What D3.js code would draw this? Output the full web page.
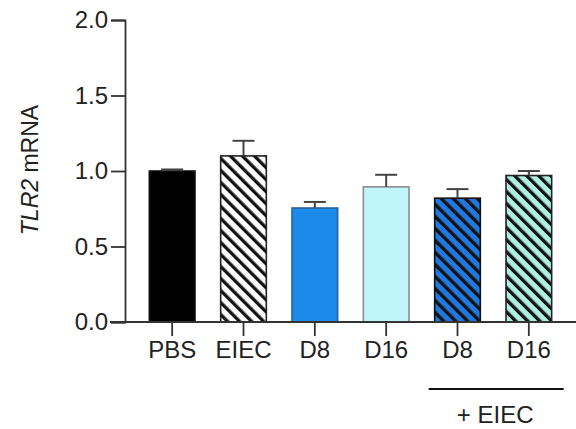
<!DOCTYPE html>
<html>
<head>
<meta charset="utf-8">
<script src="https://cdn.jsdelivr.net/npm/d3@7"></script>
<style>
  body { margin: 0; background: #fff; }
  svg text { font-family: "Liberation Sans", Arial, sans-serif; fill: #222; }
</style>
</head>
<body>
<div id="chart"></div>
<script>
var groups = ['PBS', 'EIEC', 'D8', 'D16', 'D8 ', 'D16 '],
  tickNames = ['PBS', 'EIEC', 'D8', 'D16', 'D8', 'D16'],
  means = [1.0, 1.10, 0.755, 0.895, 0.82, 0.97],
  errs = [0.01, 0.10, 0.04, 0.08, 0.06, 0.03],
  fills = ['#000000', '#ffffff', '#1b8ae8', '#bff5fb', '#2079e0', '#aef0e2'],
  strokes = ['#111111', '#222222', '#2a6298', '#8a8f92', '#111111', '#222222'],
  hatched = [false, true, false, false, true, true],
  yTicks = [0, 0.5, 1.0, 1.5, 2.0];

var W = 576, H = 429;

var svg = d3.select('#chart').append('svg')
  .attr('width', W)
  .attr('height', H);

var defs = svg.append('defs');

// hatch pattern for each filled colour
groups.forEach(function (g, i) {
  if (!hatched[i]) return;
  var p = defs.append('pattern')
    .attr('id', 'hatch' + i)
    .attr('patternUnits', 'userSpaceOnUse')
    .attr('width', 8.5)
    .attr('height', 8.5)
    .attr('patternTransform', 'rotate(-45)');
  p.append('rect')
    .attr('width', 8.5)
    .attr('height', 8.5)
    .attr('fill', fills[i]);
  p.append('rect')
    .attr('x', 0)
    .attr('width', 3.3)
    .attr('height', 8.5)
    .attr('fill', '#111');
});

var y = d3.scaleLinear()
  .domain([0, 2])
  .range([322, 20]);

var x = d3.scaleBand()
  .domain(groups)
  .range([136.5, 564.5])
  .paddingInner(0.36)
  .paddingOuter(0.18);

// bars
svg.selectAll('.bar')
  .data(groups)
  .enter().append('rect')
  .attr('class', 'bar')
  .attr('x', function (d) { return x(d); })
  .attr('y', function (d, i) { return y(means[i]); })
  .attr('width', x.bandwidth())
  .attr('height', function (d, i) { return y(0) - y(means[i]); })
  .attr('fill', function (d, i) { return hatched[i] ? 'url(#hatch' + i + ')' : fills[i]; })
  .attr('stroke', function (d, i) { return strokes[i]; })
  .attr('stroke-width', 1.6);

// error bars (upper only)
var eb = svg.selectAll('.err')
  .data(groups)
  .enter().append('g')
  .attr('class', 'err')
  .attr('stroke', '#444')
  .attr('stroke-width', 2);

eb.append('line')
  .attr('x1', function (d) { return x(d) + x.bandwidth() / 2; })
  .attr('x2', function (d) { return x(d) + x.bandwidth() / 2; })
  .attr('y1', function (d, i) { return y(means[i]); })
  .attr('y2', function (d, i) { return y(means[i] + errs[i]); });

eb.append('line')
  .attr('x1', function (d) { return x(d) + x.bandwidth() / 2 - 11; })
  .attr('x2', function (d) { return x(d) + x.bandwidth() / 2 + 11; })
  .attr('y1', function (d, i) { return y(means[i] + errs[i]); })
  .attr('y2', function (d, i) { return y(means[i] + errs[i]); });

// y axis
var yAxis = svg.append('g')
  .attr('transform', 'translate(125,0)')
  .call(d3.axisLeft(y).tickValues(yTicks).tickFormat(d3.format('.1f')).tickSize(14).tickPadding(3));

yAxis.select('.domain').attr('stroke', '#333').attr('stroke-width', 1.8);
yAxis.selectAll('.tick line').attr('stroke', '#333').attr('stroke-width', 1.8);
yAxis.selectAll('.tick text')
  .style('font-size', '24px')
  .attr('fill', '#222');

// x axis
var xAxis = svg.append('g')
  .attr('transform', 'translate(0,322)')
  .call(d3.axisBottom(x).tickSize(14).tickSizeOuter(0).tickPadding(5)
    .tickFormat(function (d, i) { return tickNames[i]; }));

xAxis.select('.domain')
  .attr('d', 'M110,0H576')
  .attr('stroke', '#333')
  .attr('stroke-width', 1.8);
xAxis.selectAll('.tick line').attr('stroke', '#333').attr('stroke-width', 1.8);
xAxis.selectAll('.tick text')
  .style('font-size', '24px')
  .attr('fill', '#222');

// group bracket for + EIEC
svg.append('line')
  .attr('x1', x(groups[4]) - 6)
  .attr('x2', x(groups[5]) + x.bandwidth() + 12)
  .attr('y1', 389)
  .attr('y2', 389)
  .attr('stroke', '#111')
  .attr('stroke-width', 2);

svg.append('text')
  .attr('x', (x(groups[4]) + x(groups[5]) + x.bandwidth()) / 2 + 2)
  .attr('y', 423)
  .attr('text-anchor', 'middle')
  .style('font-size', '24px')
  .text('+ EIEC');

// y label
var yl = svg.append('text')
  .attr('transform', 'translate(38,170) rotate(-90)')
  .attr('text-anchor', 'middle')
  .style('font-size', '23px');
yl.append('tspan').style('font-style', 'italic').text('TLR2');
yl.append('tspan').text(' mRNA');
</script>
</body>
</html>
